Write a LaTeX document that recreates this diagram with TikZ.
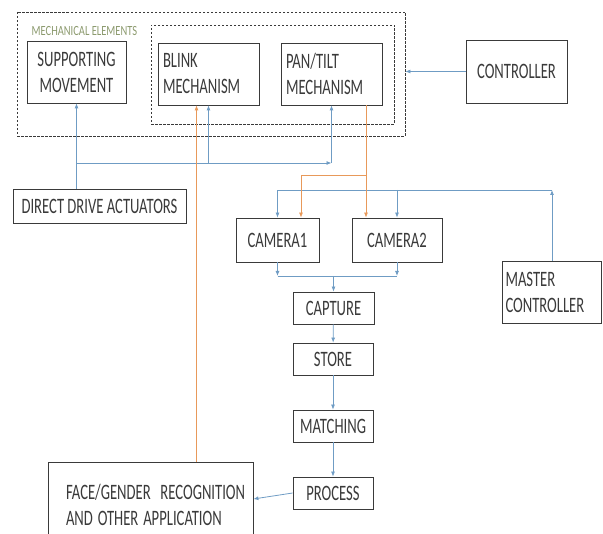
\documentclass[tikz,border=0pt]{standalone}
\usepackage{fontspec}
\setmainfont{Carlito}
\usepackage{graphicx}
\usetikzlibrary{arrows.meta}
\definecolor{lineblue}{HTML}{6F9CC4}
\definecolor{lineorange}{HTML}{E8995A}
\definecolor{boxgray}{HTML}{3A3A3A}
\definecolor{labelgreen}{HTML}{8C9A6E}
\newcommand{\sqz}[1]{\scalebox{0.665}[1]{#1}}

\begin{document}
\begin{tikzpicture}[x=1pt,y=-1pt,
  box/.style={draw=boxgray,line width=0.8pt,rectangle,inner sep=0pt,text=boxgray,
    font=\fontsize{22}{26}\selectfont,align=center},
  leftbox/.style={box,align=left,inner xsep=5pt},
  dashbox/.style={draw=boxgray,line width=0.8pt,dash pattern=on 2.5pt off 1.5pt,inner sep=0pt},
  barrow/.style={draw=lineblue,line width=0.8pt,-{Latex[length=5pt,width=4pt]}},
  bline/.style={draw=lineblue,line width=0.8pt},
  oarrow/.style={draw=lineorange,line width=0.8pt,-{Latex[length=5pt,width=4pt]}}]
  \clip (0,0) rectangle (603,534);
  % mechanical elements
  \node[dashbox,minimum width=388,minimum height=124] (mech) at (211,74) {};
  \node[dashbox,minimum width=243,minimum height=99] (mechin) at (272.5,74.5) {};
  \node[font=\fontsize{14}{14}\selectfont,text=labelgreen,inner sep=0pt] (mechlbl) at (84.5,31) {\scalebox{0.75}[1]{MECHANICAL ELEMENTS}};
  \node[box,minimum width=99,minimum height=62] (supp) at (76.5,72) {\sqz{SUPPORTING}\\\sqz{MOVEMENT}};
  \node[leftbox,text width=91,minimum height=62] (blink) at (208.5,74) {\sqz{BLINK}\\\sqz{MECHANISM}};
  \node[leftbox,text width=91,minimum height=62] (pan) at (331.5,74) {\sqz{PAN/TILT}\\\sqz{MECHANISM}};
  \node[box,minimum width=101,minimum height=63] (ctrl) at (516.5,71.5) {\sqz{CONTROLLER}};
  % actuators and cameras
  \node[box,minimum width=173,minimum height=34] (dda) at (99.5,206) {\sqz{DIRECT DRIVE ACTUATORS}};
  \node[box,minimum width=83,minimum height=44] (cam1) at (277.5,240) {\sqz{CAMERA1}};
  \node[box,minimum width=90,minimum height=44] (cam2) at (397,240) {\sqz{CAMERA2}};
  \node[leftbox,inner xsep=3pt,text width=93,minimum height=62] (master) at (552,292) {\sqz{MASTER}\\\sqz{CONTROLLER}};
  % processing chain
  \node[box,minimum width=81,minimum height=32] (capture) at (333.5,308) {\sqz{CAPTURE}};
  \node[box,minimum width=80,minimum height=32] (store) at (333,359) {\sqz{STORE}};
  \node[box,minimum width=80,minimum height=32] (match) at (333,426) {\sqz{MATCHING}};
  \node[box,minimum width=80,minimum height=32] (proc) at (333,493) {\sqz{PROCESS}};
  \node[leftbox,inner xsep=18pt,text width=169,minimum height=86] (face) at (150.5,505) {\sqz{FACE/GENDER\ \ RECOGNITION}\\\sqz{AND OTHER APPLICATION}};
  % junction lines
  \coordinate (bus) at (0,163);
  \coordinate (oj) at (0,175);
  \coordinate (mj) at (0,190);
  \coordinate (cj) at (0,276);
  \coordinate (ob) at ([xshift=-12pt]blink.south);
  \coordinate (po) at ([xshift=34.5pt]pan.south);
  % blue connectors
  \draw[barrow] (ctrl.west) -- (ctrl.west -| mech.east);
  \draw[barrow] (dda.north -| supp.south) -- (supp.south);
  \draw[barrow] (supp.south |- bus) -- (pan.south |- bus);
  \draw[barrow] (blink.south |- bus) -- (blink.south);
  \draw[barrow] (pan.south |- bus) -- (pan.south);
  \draw[barrow] (master.north) -- (master.north |- mj);
  \draw[barrow] (master.north |- mj) -| (cam1.north);
  \draw[barrow] (cam2.north |- mj) -- (cam2.north);
  \draw[barrow] (cam1.south) -- (cam1.south |- cj);
  \draw[barrow] (cam2.south) -- (cam2.south |- cj);
  \draw[bline] (cam1.south |- cj) -- (cam2.south |- cj);
  \draw[barrow] (capture.north |- cj) -- (capture.north);
  \draw[barrow] (capture) -- (store);
  \draw[barrow] (store) -- (match);
  \draw[barrow] (match) -- (proc);
  \draw[barrow] (proc.west) -- ([yshift=-6pt]proc.west -| face.east);
  % orange connectors
  \draw[oarrow] (ob |- face.north) -- (ob);
  \draw[oarrow] (po) -- (po |- cam2.north);
  \draw[oarrow] (po |- oj) -| ([xshift=23.5pt]cam1.north);
\end{tikzpicture}
\end{document}
